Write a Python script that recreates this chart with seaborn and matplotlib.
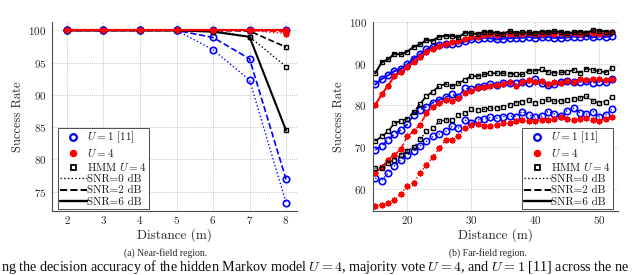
import numpy as np
import pandas as pd
import matplotlib
matplotlib.use("Agg")
import matplotlib.pyplot as plt
from matplotlib.lines import Line2D
import seaborn as sns

# ---------------- data ----------------
x_near = [2, 3, 4, 5, 6, 7, 8]
near_u1_snr0 = [100, 100, 100, 100, 97.0, 92.3, 73.3]
near_u1_snr2 = [100, 100, 100, 100, 98.9, 95.6, 76.9]
near_u1_snr6 = [100, 100, 100, 100, 100, 100, 100]
near_u4_snr0 = [100, 100, 100, 100, 100, 100, 99.5]
near_u4_snr2 = [100, 100, 100, 100, 100, 100, 99.8]
near_u4_snr6 = [100, 100, 100, 100, 100, 100, 100]
near_hmm_snr0 = [100, 100, 100, 100, 100, 99.0, 94.4]
near_hmm_snr2 = [100, 100, 100, 100, 100, 99.9, 97.4]
near_hmm_snr6 = [100, 100, 100, 100, 99.8, 99.0, 84.5]

x_far = list(range(15, 53))
far_hmm_snr6 = [87.7, 90.3, 91.0, 92.4, 92.2, 92.9, 94.0, 94.6, 95.7, 95.5, 96.5, 96.7, 96.7,
                96.3, 97.4, 97.3, 97.1, 97.6, 97.6, 97.4, 97.2, 97.8, 97.4, 97.5, 97.5, 97.3,
                97.7, 97.5, 97.8, 97.6, 97.3, 97.5, 97.7, 97.4, 98.0, 97.9, 97.7, 97.6]
far_u1_snr6 = [85.0, 86.3, 87.2, 88.2, 88.7, 89.8, 91.2, 92.2, 93.4, 94.0, 94.4, 94.8, 94.8,
               94.9, 95.4, 95.8, 96.0, 96.2, 96.1, 95.8, 96.0, 96.1, 96.2, 96.2, 96.4, 96.2,
               96.3, 96.4, 96.2, 96.2, 96.3, 96.5, 96.4, 96.6, 96.3, 96.6, 96.4, 96.7]
far_u4_snr6 = [80.1, 82.6, 84.7, 87.0, 87.9, 89.2, 90.4, 91.6, 92.7, 93.6, 94.3, 94.8, 95.1,
               95.4, 95.9, 96.3, 96.5, 96.8, 97.0, 96.9, 97.1, 97.0, 97.2, 97.0, 97.3, 97.2,
               97.1, 97.3, 97.2, 97.4, 97.1, 97.3, 97.2, 97.4, 97.3, 97.2, 97.3, 97.5]
far_hmm_snr2 = [71.4, 72.5, 73.7, 75.7, 76.2, 76.8, 78.3, 80.3, 82.2, 83.3, 84.6, 85.1, 84.6,
                85.3, 86.1, 87.0, 87.0, 87.4, 87.7, 87.7, 87.7, 87.6, 87.5, 87.4, 88.3, 88.3,
                88.6, 88.0, 87.8, 87.9, 88.0, 88.5, 87.8, 88.8, 88.5, 88.2, 87.9, 89.0]
far_u1_snr2 = [69.3, 70.2, 71.7, 73.1, 74.1, 75.4, 77.7, 78.9, 79.7, 80.6, 81.3, 81.9, 82.6,
               82.1, 84.1, 83.8, 84.5, 84.6, 85.0, 84.9, 85.3, 85.4, 85.3, 85.7, 85.4, 86.2,
               85.3, 84.9, 85.0, 85.7, 85.9, 85.7, 85.7, 85.9, 85.4, 85.7, 85.7, 86.2]
far_u4_snr2 = [63.7, 65.1, 66.9, 68.1, 69.4, 72.5, 73.8, 75.3, 78.1, 79.7, 80.5, 81.3, 81.1,
               81.7, 82.9, 83.5, 84.2, 84.5, 84.7, 84.9, 85.2, 85.5, 84.6, 85.6, 86.0, 85.6,
               85.8, 85.2, 85.5, 85.4, 85.8, 85.6, 86.3, 86.0, 86.4, 86.2, 86.0, 86.3]
far_hmm_snr0 = [64.9, 64.9, 66.1, 66.9, 68.1, 69.1, 69.9, 71.8, 73.7, 74.5, 76.1, 76.5, 76.5,
                77.7, 78.1, 79.0, 78.9, 79.0, 79.3, 79.3, 79.7, 80.1, 80.6, 80.9, 81.3, 80.5,
                81.0, 81.4, 81.0, 81.0, 81.3, 81.4, 81.7, 82.2, 81.0, 80.6, 80.9, 82.1]
far_u1_snr0 = [62.5, 61.9, 63.7, 65.4, 66.9, 68.1, 68.9, 70.2, 71.3, 72.5, 73.1, 73.7, 74.9,
               74.5, 76.5, 75.7, 76.5, 76.6, 77.1, 76.9, 77.3, 77.4, 77.3, 78.5, 77.7, 77.1,
               77.4, 78.5, 77.9, 77.4, 78.7, 79.3, 78.2, 77.9, 78.5, 77.3, 77.7, 79.0]
far_u4_snr0 = [55.9, 56.1, 56.5, 57.3, 58.7, 60.6, 61.4, 63.7, 65.7, 67.5, 69.7, 71.7, 71.7,
               72.5, 74.5, 75.3, 75.5, 75.0, 75.0, 75.3, 75.7, 75.8, 76.1, 76.5, 76.1, 76.3,
               76.5, 76.5, 76.6, 77.1, 76.6, 76.5, 76.6, 76.9, 76.5, 76.3, 76.6, 77.1]

near_xticks = [2, 3, 4, 5, 6, 7, 8]
near_yticks = [75, 80, 85, 90, 95, 100]
far_xticks = [20, 30, 40, 50]
far_yticks = [60, 70, 80, 90, 100]

legend_labels = ["$U=1$ [11]", "$U=4$", "HMM $U=4$", "SNR=0 dB", "SNR=2 dB", "SNR=6 dB"]
x_label = "Distance (m)"
y_label = "Success Rate"
cap_a = "(a) Near-field region."
cap_b = "(b) Far-field region."
bottom_caption = ("ng the decision accuracy of the hidden Markov model $U = 4$, majority vote "
                  "$U = 4$, and $U = 1$ [11] across the ne")

# ---------------- style ----------------
sns.set_style("white")
plt.rcParams["font.family"] = ["cmr10", "DejaVu Serif"]
plt.rcParams["mathtext.fontset"] = "cm"
plt.rcParams["axes.formatter.use_mathtext"] = True
plt.rcParams["axes.unicode_minus"] = False

BLUE = (0.0, 0.0, 1.0)
RED = (1.0, 0.0, 0.0)
BLACK = (0.0, 0.0, 0.0)
ASTER = (8, 2, 0)

snr_styles = {0: (":", 1.0), 2: ("--", 1.2), 6: ("-", 1.5)}

fig = plt.figure(figsize=(6.4, 2.75), dpi=100)
ax1 = fig.add_axes([52 / 640, 1 - 211 / 275, 245 / 640, 189 / 275])
ax2 = fig.add_axes([372.7 / 640, 1 - 211 / 275, 245 / 640, 189 / 275])


def draw(ax, x, y, method, snr):
    ls, lw = snr_styles[snr]
    if method == "u1":
        kw = dict(color=BLUE, marker="o", markersize=4.6, markerfacecolor="none",
                  markeredgecolor=BLUE, markeredgewidth=1.2)
    elif method == "u4":
        kw = dict(color=RED, marker=ASTER, markersize=4.2, markerfacecolor=RED,
                  markeredgecolor=RED, markeredgewidth=1.15)
    else:
        kw = dict(color=BLACK, marker="s", markersize=3.4, markerfacecolor="none",
                  markeredgecolor=BLACK, markeredgewidth=1.0)
    df = pd.DataFrame({"x": x, "y": y})
    sns.lineplot(data=df, x="x", y="y", ax=ax, linestyle=ls, linewidth=lw,
                 legend=False, errorbar=None, **kw)


# near field
for snr, y in [(0, near_u1_snr0), (2, near_u1_snr2), (6, near_u1_snr6)]:
    draw(ax1, x_near, y, "u1", snr)
for snr, y in [(0, near_hmm_snr0), (2, near_hmm_snr2), (6, near_hmm_snr6)]:
    draw(ax1, x_near, y, "hmm", snr)
for snr, y in [(0, near_u4_snr0), (2, near_u4_snr2), (6, near_u4_snr6)]:
    draw(ax1, x_near, y, "u4", snr)

# far field
for snr, y in [(0, far_u1_snr0), (2, far_u1_snr2), (6, far_u1_snr6)]:
    draw(ax2, x_far, y, "u1", snr)
for snr, y in [(0, far_u4_snr0), (2, far_u4_snr2), (6, far_u4_snr6)]:
    draw(ax2, x_far, y, "u4", snr)
for snr, y in [(0, far_hmm_snr0), (2, far_hmm_snr2), (6, far_hmm_snr6)]:
    draw(ax2, x_far, y, "hmm", snr)

ax1.set_xlim(1.59, 8.3)
ax1.set_ylim(72.0, 101.3)
ax2.set_xlim(14.6, 52.9)
ax2.set_ylim(54.6, 100.0)
ax1.set_xticks(near_xticks)
ax1.set_yticks(near_yticks)
ax2.set_xticks(far_xticks)
ax2.set_yticks(far_yticks)

handles = [
    Line2D([], [], linestyle="none", marker="o", markersize=4.8, markerfacecolor="none",
           markeredgecolor=BLUE, markeredgewidth=1.6),
    Line2D([], [], linestyle="none", marker="o", markersize=4.4, markerfacecolor=RED,
           markeredgecolor=RED),
    Line2D([], [], linestyle="none", marker="s", markersize=3.6, markerfacecolor="none",
           markeredgecolor=BLACK, markeredgewidth=1.3),
    Line2D([], [], color=BLACK, linestyle=":", linewidth=1.0),
    Line2D([], [], color=BLACK, linestyle="--", linewidth=1.4),
    Line2D([], [], color=BLACK, linestyle="-", linewidth=1.7),
]

for ax, loc, anchor in [(ax1, "lower left", (0.024, 0.01)), (ax2, "lower right", (0.981, 0.01))]:
    for s in ["top", "right"]:
        ax.spines[s].set_visible(False)
    for s in ["left", "bottom"]:
        ax.spines[s].set_color("0.3")
        ax.spines[s].set_linewidth(0.8)
    ax.grid(True, linestyle=(0, (1, 1.5)), color="0.7", linewidth=0.6)
    ax.set_axisbelow(True)
    ax.tick_params(axis="x", pad=2.5)
    ax.tick_params(axis="y", pad=4)
    ax.tick_params(axis="both", labelsize=8, colors="0.3", labelcolor="0.15",
                   direction="in", length=2, width=0.6)
    ax.set_xlabel(x_label, fontsize=9.5, color="0.15", labelpad=1.5)
    ax.set_ylabel(y_label, fontsize=9, color="0.15", labelpad=3)
    leg = ax.legend(handles, legend_labels, loc=loc, bbox_to_anchor=anchor,
                    fontsize=8, frameon=True, fancybox=False, framealpha=1,
                    edgecolor="0.3", handlelength=2.4, handletextpad=0.05,
                    borderpad=0.2, labelspacing=0.15, borderaxespad=0.0)
    leg.get_frame().set_linewidth(0.7)
    for t in leg.get_texts():
        t.set_color("0.1")

fig.text(166 / 640, 1 - 253 / 275, cap_a, ha="center", va="center", fontsize=7,
         family=["Liberation Serif", "DejaVu Serif"], color="0.15")
fig.text(488 / 640, 1 - 253 / 275, cap_b, ha="center", va="center", fontsize=7,
         family=["Liberation Serif", "DejaVu Serif"], color="0.15")
fig.text(1 / 640, 1 - 271.5 / 275, bottom_caption, ha="left", va="baseline", fontsize=10.2,
         family=["Liberation Serif", "DejaVu Serif"], color="0.05")

fig.savefig("out.png", dpi=100)
